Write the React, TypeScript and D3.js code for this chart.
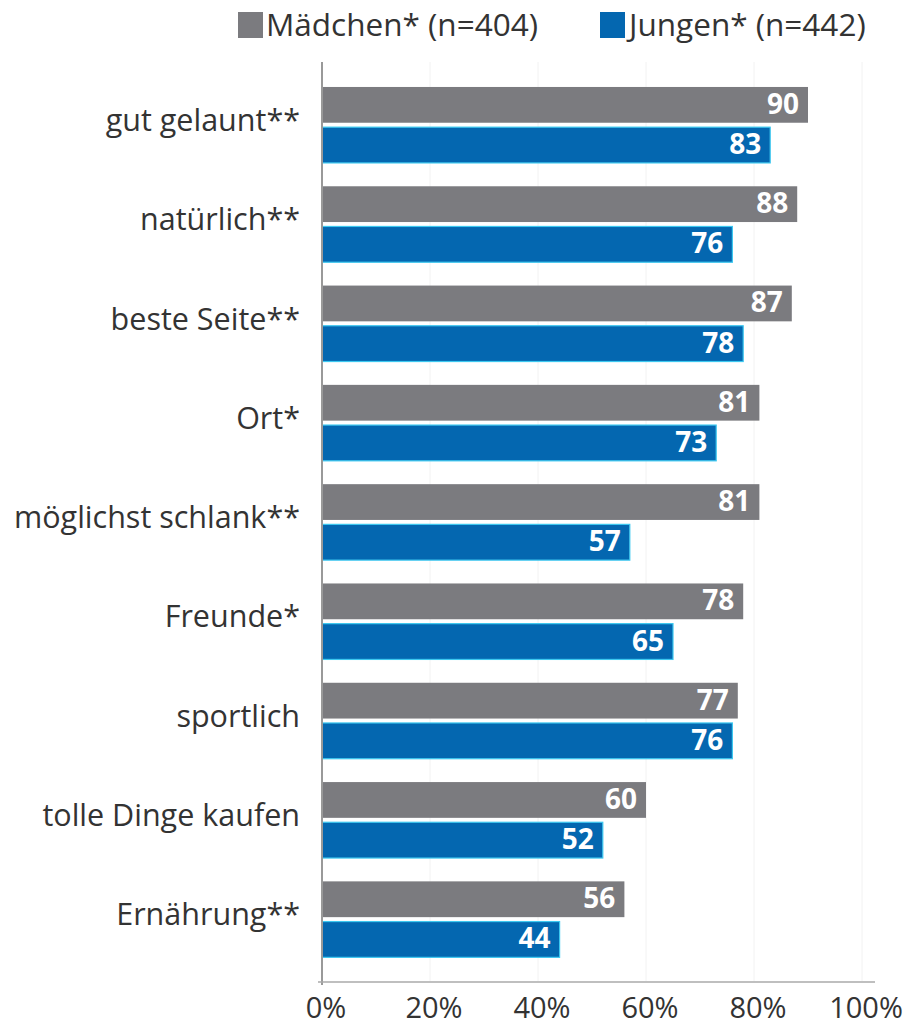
import React from "react";
import * as d3 from "d3";

const categories = [
  "gut gelaunt**",
  "natürlich**",
  "beste Seite**",
  "Ort*",
  "möglichst schlank**",
  "Freunde*",
  "sportlich",
  "tolle Dinge kaufen",
  "Ernährung**",
];
const maedchen = [90, 88, 87, 81, 81, 78, 77, 60, 56];
const jungen = [83, 76, 78, 73, 57, 65, 76, 52, 44];
const seriesNames = ["Mädchen* (n=404)", "Jungen* (n=442)"];
const xTicks = [0, 20, 40, 60, 80, 100];

const W = 905;
const H = 1029;
const GRAY = "#7b7b7f";
const BLUE = "#0467b0";
const FONT = "'Open Sans', 'Noto Sans', sans-serif";

export default function App() {
  const x = d3.scaleLinear().domain([0, 100]).range([322, 862]);
  const y = d3
    .scaleBand<string>()
    .domain(categories)
    .range([75.3, 969])
    .paddingInner(0.235)
    .paddingOuter(0.1175);
  const inner = d3
    .scaleBand<string>()
    .domain(["m", "j"])
    .range([0, y.bandwidth()])
    .paddingInner(0.11);

  const rows = categories.map((c, i) => ({ c, m: maedchen[i], j: jungen[i] }));

  return (
    <svg
      width={W}
      height={H}
      style={{ position: "absolute", left: 0, top: 0, background: "#fff" }}
      fontFamily={FONT}
    >
      {/* grid */}
      {xTicks.slice(1).map((t) => (
        <line key={"g" + t} x1={x(t)} x2={x(t)} y1={62} y2={981} stroke="#f2f2f2" strokeWidth={1} />
      ))}
      {/* legend */}
      <rect x={238} y={12} width={25} height={26} fill={GRAY} />
      <text x={266} y={36} fontSize={31.5} fill="#333">{seriesNames[0]}</text>
      <rect x={600} y={12} width={25} height={26} fill={BLUE} />
      <text x={629} y={36} fontSize={31.5} fill="#333">{seriesNames[1]}</text>

      {rows.map((r) => {
        const y0 = y(r.c)!;
        return (
          <g key={r.c}>
            <rect x={x(0)} y={y0 + inner("m")!} width={x(r.m) - x(0)} height={inner.bandwidth()} fill={GRAY} />
            <text
              x={x(r.m) - 9}
              y={y0 + inner("m")! + inner.bandwidth() / 2 + 9}
              textAnchor="end"
              fontSize={28}
              fontWeight="bold"
              fill="#fff"
            >
              {r.m}
            </text>
            <rect
              x={x(0)}
              y={y0 + inner("j")!}
              width={x(r.j) - x(0)}
              height={inner.bandwidth()}
              fill={BLUE}
              stroke="#3cc8f0"
              strokeWidth={1.2}
            />
            <text
              x={x(r.j) - 9}
              y={y0 + inner("j")! + inner.bandwidth() / 2 + 9}
              textAnchor="end"
              fontSize={28}
              fontWeight="bold"
              fill="#fff"
            >
              {r.j}
            </text>
            <text
              x={300}
              y={y0 + y.bandwidth() / 2 + 6}
              textAnchor="end"
              fontSize={30.5}
              fill="#333"
            >
              {r.c}
            </text>
          </g>
        );
      })}

      {/* axes */}
      <line x1={x(0)} x2={x(0)} y1={62} y2={985} stroke="#999" strokeWidth={2} />
      <line x1={318} x2={875} y1={982} y2={982} stroke="#aaa" strokeWidth={1.5} />
      {xTicks.map((t) => (
        <text key={"t" + t} x={x(t) + 4} y={1018} textAnchor="middle" fontSize={29} fill="#333">
          {t}%
        </text>
      ))}
    </svg>
  );
}
